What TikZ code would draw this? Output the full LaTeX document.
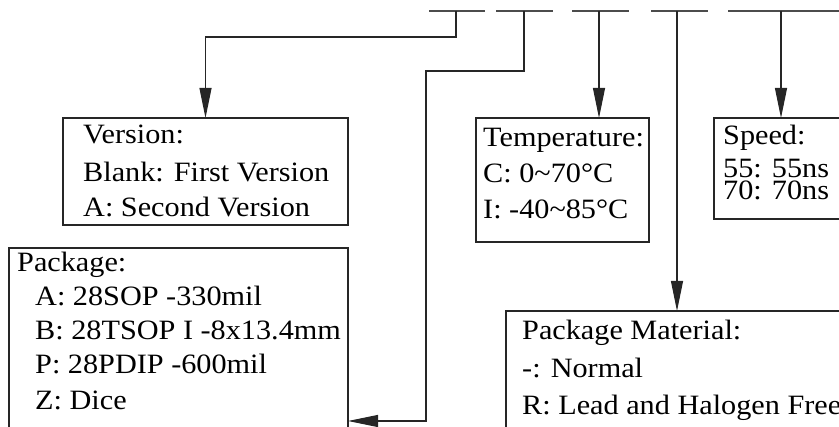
\documentclass[tikz,border=0pt]{standalone}
\usepackage{fontspec}
\setmainfont[FakeStretch=1.08]{Liberation Serif}
\usetikzlibrary{arrows.meta}
\tikzset{
  conn/.style={draw=black!85, line width=1.1pt},
  arr/.style={conn, -{Triangle[length=30pt,width=12pt]}},
  seg/.style={draw=black!70, line width=1.3pt},
  boxnode/.style={draw=black!85, line width=1.1pt, inner sep=0pt, outer sep=0pt, anchor=north west},
  txt/.style={inner sep=0pt, anchor=base west, font=\fontsize{28}{28}\selectfont}
}
\begin{document}
\begin{tikzpicture}[x=1pt,y=-1pt]
\useasboundingbox (0,0) rectangle (839,427);
\clip (0,0) rectangle (839,427);
% top segments
\draw[seg] (429,11) -- (485,11);
\draw[seg] (496,11) -- (553,11);
\draw[seg] (572,11) -- (629,11);
\draw[seg] (651,11) -- (708,11);
\draw[seg] (728,11) -- (850,11);
\coordinate (t1) at (456,11);
\coordinate (t2) at (524,11);
\coordinate (t3) at (599,11);
\coordinate (t4) at (677,11);
\coordinate (t5) at (781,11);
\coordinate (b1) at (456,37);
\coordinate (k2a) at (426,71);
\coordinate (k2b) at (426,421);
% boxes
\node[boxnode, minimum width=285pt, minimum height=107pt] (ver) at (63,118) {};
\node[boxnode, minimum width=173pt, minimum height=124pt] (temp) at (476,118) {};
\node[boxnode, minimum width=150pt, minimum height=101pt] (spd) at (714,118) {};
\node[boxnode, minimum width=339pt, minimum height=200pt] (pkg) at (9,248) {};
\node[boxnode, minimum width=360pt, minimum height=150pt] (mat) at (506,311) {};
% connectors
\draw[arr] (t1) -- (b1) -| (ver.north);
\draw[arr] (t2) |- (k2a) -- (k2b) -- (k2b -| pkg.east);
\draw[arr] (t3) -- (t3 |- temp.north);
\draw[arr] (t4) -- (t4 |- mat.north);
\draw[arr] (t5) -- (t5 |- spd.north);
% texts
\node[txt] (v1) at (83,144) {Version:};
\node[txt] (v2) at (83,182) {Blank: First Version};
\node[txt] (v3) at (83,217) {A: Second Version};
\node[txt] (tp1) at (483,147) {Temperature:};
\node[txt] (tp2) at (483,183) {C: 0\textasciitilde70°C};
\node[txt] (tp3) at (483,219) {I: -40\textasciitilde85°C};
\node[txt] (s1) at (723,145) {Speed:};
\node[txt] (s2) at (723,178) {55: 55ns};
\node[txt] (s3) at (723,200) {70: 70ns};
\node[txt] (p1) at (17,272) {Package:};
\node[txt] (p2) at (35,306) {A: 28SOP -330mil};
\node[txt] (p3) at (35,340) {B: 28TSOP I -8x13.4mm};
\node[txt] (p4) at (35,374) {P: 28PDIP -600mil};
\node[txt] (p5) at (35,410) {Z: Dice};
\node[txt] (m1) at (522,340) {Package Material:};
\node[txt] (m2) at (522,378) {-: Normal};
\node[txt] (m3) at (522,415) {R: Lead and Halogen Free};
\end{tikzpicture}
\end{document}
